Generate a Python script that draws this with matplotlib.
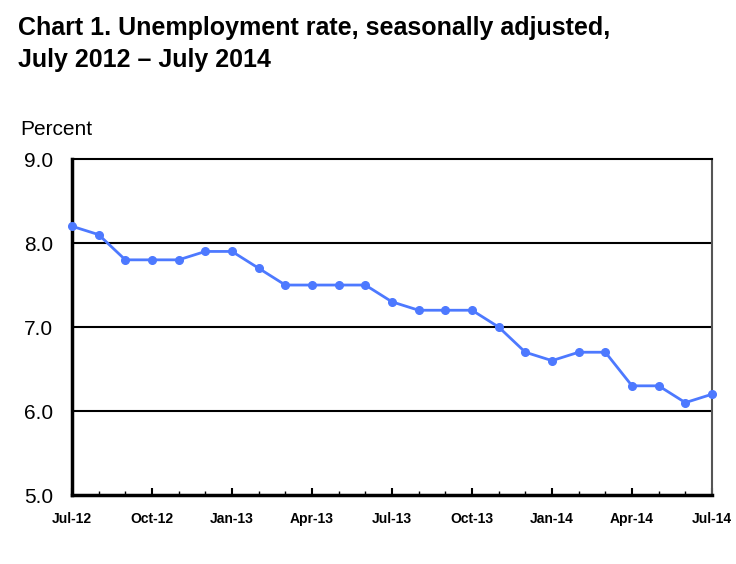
import numpy as np
import matplotlib
matplotlib.use('Agg')
import matplotlib.pyplot as plt
from matplotlib.ticker import MultipleLocator

plt.rcParams['font.family'] = ['Liberation Sans', 'DejaVu Sans']

#monthly unemployment rate, Jul-12 .. Jul-14
months = np.arange(25)
rate = [8.2, 8.1, 7.8, 7.8, 7.8, 7.9, 7.9, 7.7, 7.5, 7.5, 7.5, 7.5, 7.3,
        7.2, 7.2, 7.2, 7.0, 6.7, 6.6, 6.7, 6.7, 6.3, 6.3, 6.1, 6.2]
tick_labels = ['Jul-12', 'Oct-12', 'Jan-13', 'Apr-13', 'Jul-13', 'Oct-13',
               'Jan-14', 'Apr-14', 'Jul-14']
yticks = [5.0, 6.0, 7.0, 8.0, 9.0]

fig = plt.figure(figsize=(7.36, 5.64), dpi=100)
ax = fig.add_axes([0.0978, 0.1223, 0.8696, 0.5957])

for y in [6.0, 7.0, 8.0]:
    ax.axhline(y, color='black', lw=1.5, zorder=1)

ax.plot(months, rate, color='#4d79ff', lw=2, marker='o', markersize=5.5,
        zorder=3, clip_on=False)

ax.set_xlim(0, 24)
ax.set_ylim(5.0, 9.0)
ax.set_yticks(yticks)
ax.set_yticklabels(['%.1f' % v for v in yticks], fontsize=15)
ax.set_xticks(months[::3])
ax.set_xticklabels(tick_labels, fontsize=10, fontweight='bold')
ax.xaxis.set_minor_locator(MultipleLocator(1))
ax.tick_params(axis='y', length=0, pad=13.5)
ax.tick_params(axis='x', which='major', direction='in', length=5, width=1.5, pad=12)
ax.tick_params(axis='x', which='minor', direction='in', length=3, width=1)

ax.spines['left'].set_linewidth(2.5)
ax.spines['bottom'].set_linewidth(2.5)
ax.spines['top'].set_linewidth(1.5)
ax.spines['right'].set_linewidth(1.5)
ax.spines['right'].set_color('#555555')

fig.text(0.025, 0.950, 'Chart 1. Unemployment rate, seasonally adjusted,',
         fontsize=18, fontweight='bold', va='center')
fig.text(0.025, 0.894, 'July 2012 \u2013 July 2014',
         fontsize=18, fontweight='bold', va='center')
fig.text(0.027, 0.77, 'Percent', fontsize=15, va='center')

fig.savefig('out.png', dpi=100)
